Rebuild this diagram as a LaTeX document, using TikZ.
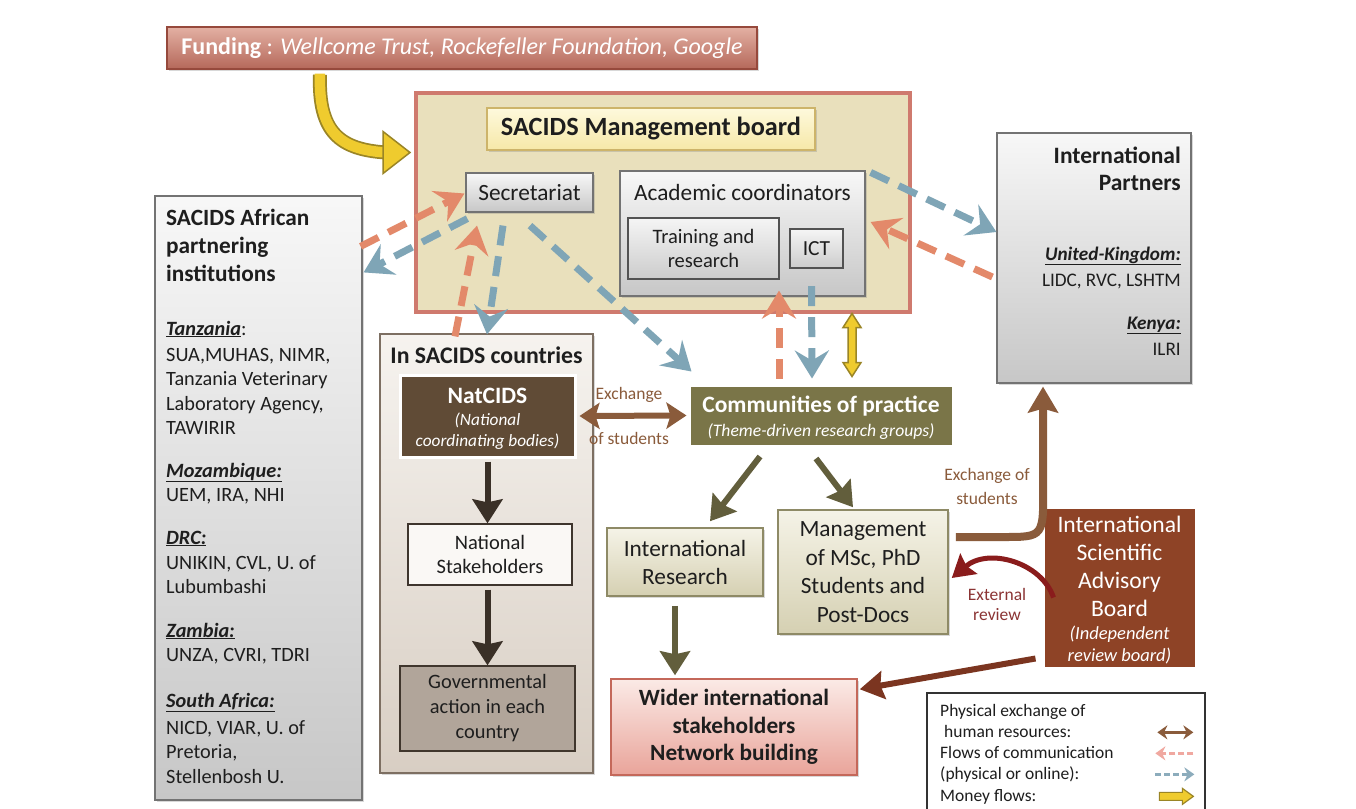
\documentclass[tikz,border=0pt]{standalone}
\usepackage{fontspec}
\setmainfont{Carlito}
\usetikzlibrary{arrows.meta,shadows,calc}
\definecolor{salm}{HTML}{E3896A}
\definecolor{blueg}{HTML}{7FA5B6}
\definecolor{exbrown}{HTML}{8A5B3B}
\definecolor{olivearr}{HTML}{625E3C}
\definecolor{darkarr}{HTML}{3A3027}
\definecolor{yfill}{HTML}{EFCB2E}
\definecolor{yline}{HTML}{9A8526}
\definecolor{txt}{HTML}{1E1E1E}
\definecolor{revred}{HTML}{8A1C1C}
\definecolor{revtxt}{HTML}{8B3434}
\definecolor{isabarr}{HTML}{7B3520}
\newcommand{\fsz}[2]{\fontsize{#1}{#2}\selectfont}
\newcommand{\cty}[1]{\underline{\textbf{\textit{#1}}}}
\tikzset{
  every node/.style={inner sep=0pt, text=txt},
  bx/.style 2 args={minimum width=#1pt, minimum height=#2pt},
  shad/.style={drop shadow={opacity=0.3, shadow xshift=2pt, shadow yshift=-2pt}},
  graybox/.style={draw=black!55, line width=1.2, top color=black!3, bottom color=black!22, shad},
  innerbox/.style={draw=black!68, line width=2.2, top color=black!4, bottom color=black!20},
  mbbox/.style={fill={rgb,255:red,233;green,224;blue,188}, draw={rgb,255:red,207;green,122;blue,110}, line width=4, shad},
  mbtitle/.style={draw={rgb,255:red,205;green,180;blue,106}, line width=1.2, top color={rgb,255:red,254;green,249;blue,220}, bottom color={rgb,255:red,246;green,232;blue,168}, shad},
  countrybox/.style={draw={rgb,255:red,125;green,111;blue,98}, line width=1.3, top color={rgb,255:red,246;green,243;blue,239}, bottom color={rgb,255:red,216;green,206;blue,195}, shad},
  natbox/.style={fill={rgb,255:red,96;green,75;blue,54}, draw=white, line width=3, shad},
  whitebox/.style={fill={rgb,255:red,250;green,248;blue,245}, draw={rgb,255:red,62;green,53;blue,45}, line width=1.3},
  govbox/.style={fill={rgb,255:red,177;green,165;blue,154}, draw={rgb,255:red,64;green,54;blue,45}, line width=1.3},
  combox/.style={fill={rgb,255:red,122;green,117;blue,72}, draw=white, line width=3, shad},
  olbox/.style={top color={rgb,255:red,245;green,243;blue,231}, bottom color={rgb,255:red,213;green,208;blue,178}, draw={rgb,255:red,142;green,138;blue,102}, line width=1.5, shad},
  widerbox/.style={top color={rgb,255:red,251;green,234;blue,230}, bottom color={rgb,255:red,233;green,164;blue,154}, draw={rgb,255:red,196;green,104;blue,90}, line width=1.5, shad},
  isabbox/.style={fill={rgb,255:red,142;green,67;blue,38}, draw=white, line width=3, shad},
  fundbox/.style={top color={rgb,255:red,227;green,176;blue,163}, bottom color={rgb,255:red,181;green,104;blue,90}, draw={rgb,255:red,150;green,73;blue,60}, line width=1.3, shad},
  legbox/.style={fill=white, draw=black!80, line width=1.3},
  commarrow/.style={line width=7, dash pattern=on 20pt off 11pt, -{Stealth[length=28pt,width=34pt,inset=10pt]}},
  salmarrow/.style={commarrow, draw=salm},
  bluearrow/.style={commarrow, draw=blueg},
  darkarrow/.style={line width=6, draw=darkarr, -{Stealth[length=24pt,width=30pt,inset=3pt]}},
  olivearrow/.style={line width=6, draw=olivearr, -{Stealth[length=24pt,width=30pt,inset=3pt]}},
  exarrow/.style={line width=6, draw=exbrown, {Stealth[length=20pt,width=26pt,inset=4pt]}-{Stealth[length=20pt,width=26pt,inset=4pt]}},
  lbl/.style={text=exbrown, font=\fsz{17.5}{21}},
}
\begin{document}
\begin{tikzpicture}[x=1pt,y=-1pt]
\clip (0,0) rectangle (1356,808);
\fill[white] (0,0) rectangle (1356,808);

% ---------- boxes ----------
\node[fundbox, bx={590}{42}, text=white, font=\fsz{24}{28}] (fund) at (462,48) {\textbf{Funding} : \textit{Wellcome Trust, Rockefeller Foundation, Google}};

\node[mbbox, bx={494}{219}] (mb) at (663,202.5) {};
\node[mbtitle, bx={328}{42}, font=\fsz{26.3}{30}\bfseries] (mbt) at (651,129) {SACIDS Management board};
\node[graybox, bx={127}{39}, font=\fsz{23.3}{26}] (sec) at (529.5,192.5) {Secretariat};
\node[graybox, bx={245}{125}] (acad) at (742.5,233.5) {};
\node[anchor=base, font=\fsz{23.3}{26}] (acadt) at (742.5,200) {Academic coordinators};
\node[innerbox, bx={151}{61}, align=center, font=\fsz{20.5}{24}] (tr) at (703.5,248.5) {Training and\\research};
\node[innerbox, bx={53}{39}, font=\fsz{21.5}{24}] (ict) at (816.5,248.5) {ICT};

\node[graybox, bx={194}{250}] (ip) at (1094,258) {};
\foreach \y/\t [count=\i] in {163/{\fsz{23.5}{26}\bfseries International}, 190/{\fsz{23.5}{26}\bfseries Partners}, 260/{\fsz{19.2}{24}\cty{United-Kingdom:}}, 286/{\fsz{19.2}{24}LIDC, RVC, LSHTM}, 329/{\fsz{19.2}{24}\cty{Kenya:}}, 355/{\fsz{19.2}{24}ILRI}}
  \node[anchor=base east] (ipt\i) at (1181,\y) {\t};

\node[graybox, bx={207}{604}] (af) at (258.5,498) {};
\foreach \y/\t [count=\i] in {225/{\fsz{23.3}{26}\bfseries SACIDS African}, 253/{\fsz{23.3}{26}\bfseries partnering}, 281/{\fsz{23.3}{26}\bfseries institutions},
  335/{\cty{Tanzania}:}, 361/{SUA,MUHAS, NIMR,}, 385/{Tanzania Veterinary}, 410/{Laboratory Agency,}, 434/{TAWIRIR},
  477/{\cty{Mozambique:}}, 501/{UEM, IRA, NHI},
  544/{\cty{DRC:}}, 569/{UNIKIN, CVL, U. of}, 593/{Lubumbashi},
  637/{\cty{Zambia:}}, 661/{UNZA, CVRI, TDRI},
  707/{\cty{South Africa:}}, 734/{NICD, VIAR, U. of}, 758/{Pretoria,}, 783/{Stellenbosh U.}}
  \node[anchor=base west, font=\fsz{20.3}{24}] (aft\i) at (166,\y) {\t};

\node[countrybox, bx={213}{439}] (ctry) at (486.5,553.5) {};
\node[anchor=base, font=\fsz{23.8}{26}\bfseries] (ctryt) at (486.5,363) {In SACIDS countries};
\node[natbox, bx={175}{82}] (nat) at (487.5,416) {};
\node[align=center, text=white, font=\fsz{17.3}{21}] (natt) at (487.5,419) {\fsz{23.5}{26}\bfseries NatCIDS\\[1pt]\itshape (National\\\itshape coordinating bodies)};
\node[whitebox, bx={164}{61}, align=center, font=\fsz{20.5}{24}] (ns) at (490,554.5) {National\\Stakeholders};
\node[govbox, bx={175}{85}, align=center, font=\fsz{20.4}{25}] (gov) at (487.5,708.5) {Governmental\\action in each\\country};

\node[combox, bx={264}{61}] (cop) at (821,415.5) {};
\node[align=center, text=white, font=\fsz{17.6}{24.5}] (copt) at (821,417.5) {\fsz{23.5}{26}\bfseries Communities of practice\\\itshape (Theme-driven research groups)};
\node[olbox, bx={156}{68}, align=center, font=\fsz{23.3}{28}] (ir) at (685,562) {International\\Research};
\node[olbox, bx={170}{124}, align=center, font=\fsz{23.3}{28.5}] (mg) at (863,572) {Management\\of MSc, PhD\\Students and\\Post-Docs};
\node[widerbox, bx={246}{96}, align=center, font=\fsz{23.3}{27.5}\bfseries] (wid) at (734,727) {Wider international\\stakeholders\\Network building};
\node[isabbox, bx={153}{161}] (isab) at (1119.5,587.5) {};
\node[align=center, text=white, font=\fsz{23.6}{28}] (isabt) at (1119.5,590.5) {International\\Scientific\\Advisory\\Board\\[-5pt]\fsz{18.5}{22}\itshape (Independent\\[-6pt]\fsz{18.5}{22}\itshape review board)};

\node[legbox, bx={278}{137}] (leg) at (1066,761.5) {};
\foreach \y/\t [count=\i] in {716/{Physical exchange of}, 737/{\ human resources:}, 758/{Flows of communication}, 779/{(physical or online):}, 801/{Money flows:}}
  \node[anchor=base west, font=\fsz{17.5}{20}] (legt\i) at (940,\y) {\t};

% ---------- labels ----------
\node[lbl] (ex1) at (629,395) {Exchange};
\node[lbl] (ex2) at (629,438) {of students};
\node[lbl] (ex3) at (987,476) {Exchange of};
\node[lbl] (ex4) at (987,498) {students};
\node[lbl, text=revtxt] (rv1) at (997,594) {External};
\node[lbl, text=revtxt] (rv2) at (997,615) {review};

% ---------- solid arrows ----------
\draw[darkarrow] ([yshift=-3pt]nat.south) -- (nat.south |- ns.north);
\draw[darkarrow] ([yshift=-4pt]nat.south |- ns.south) -- (nat.south |- gov.north);
\draw[exarrow] ([xshift=3pt]nat.east) -- ([xshift=-1pt]cop.west);
\draw[olivearrow] ($(cop.south)+(-61,9)$) -- ($(ir.north)+(25,-6)$);
\draw[olivearrow] ($(cop.south)+(-5,11)$) -- ($(mg.north)+(-10,-2)$);
\draw[olivearrow] ($(ir.south)+(-10,9)$) -- ($(wid.north)+(-59,-3)$);
\draw[line width=6, draw=isabarr, -{Stealth[length=24pt,width=28pt,inset=3pt]}] ($(isab.south west)+(-6,-11)$) -- ($(wid.north east)+(2,11)$);
\draw[line width=5, draw=revred, -{Stealth[length=22pt,width=26pt,inset=3pt]}] ($(isab.west)+(12,10)$) .. controls ($(isab.west)+(0,-25)$) and ($(mg.east)+(40,-25)$) .. ($(mg.east)+(3,6)$);
\draw[line width=8, draw=exbrown, -{Stealth[length=26pt,width=30pt,inset=4pt]}] ($(mg.east)+(7,-35)$) -- ($(mg.east)+(55,-35)$) .. controls ($(mg.east)+(95,-35)$) .. ($(ip.south)+(-51,100)$) -- ($(ip.south)+(-51,3)$);

% ---------- money arrows ----------
\coordinate (ys) at ($(fund.south)+(-142,5)$);
\coordinate (ytip) at ($(mb.west)+(-4,-50)$);
\draw[line width=14, draw=yline] (ys) .. controls ($(ys)+(-2,58)$) and ($(ytip)+(-70,-3)$) .. ($(ytip)+(-24,0)$);
\draw[line width=10.5, draw=yfill] ([yshift=1pt]ys) .. controls ($(ys)+(-2,58)$) and ($(ytip)+(-70,-3)$) .. ($(ytip)+(-24,0)$);
\filldraw[fill=yfill, draw=yline, line width=1.5] (ytip) -- ++(-27,-21) -- ++(0,42) -- cycle;

\coordinate (yv) at ($(cop.north)+(31,-70)$);
\filldraw[fill=yfill, draw=yline, line width=1.5] (yv) -- ++(9,14) -- ++(-5,0) -- ++(0,35) -- ++(5,0) -- ++(-9,14) -- ++(-9,-14) -- ++(5,0) -- ++(0,-35) -- ++(-5,0) -- cycle;

% ---------- communication arrows ----------
\draw[salmarrow] ($(af.north east)+(-2,51)$) -- ($(sec.west)+(-1,1)$);
\draw[bluearrow] ($(sec.south west)+(2,6)$) -- ($(af.north east)+(1,77)$);
\draw[salmarrow] ($(ctry.north)+(-31.5,3)$) -- ($(sec.south)+(-52.5,13)$);
\draw[bluearrow] ($(sec.south)+(-26.5,13)$) -- ($(ctry.north)+(0.5,1)$);
\draw[bluearrow] ($(sec.south)+(0.5,13)$) -- ($(cop.north west)+(4,-12)$);
\draw[salmarrow] ($(cop.north)+(-42,-5)$) -- ($(acad.south)+(36.5,-6)$);
\draw[bluearrow] ($(ict.south)+(-5,17)$) -- ($(cop.north)+(-9,-5)$);
\draw[bluearrow] ($(acad.north east)+(5,2)$) -- ($(ip.west)+(0,-26)$);
\draw[salmarrow] ($(ip.west)+(-4,19)$) -- ($(acad.east)+(5,-11.5)$);

% ---------- legend arrows ----------
\coordinate (l1a) at ($(leg.north west)+(231,40)$);
\coordinate (l1b) at ($(leg.north west)+(267,40)$);
\draw[line width=3, draw=exbrown, {Stealth[length=10pt,width=14pt]}-{Stealth[length=10pt,width=14pt]}] (l1a) -- (l1b);
\coordinate (l2a) at ($(leg.north west)+(267,61)$);
\coordinate (l2b) at ($(leg.north west)+(229,61)$);
\draw[line width=3, draw={rgb,255:red,240;green,168;blue,160}, dash pattern=on 6pt off 3pt, -{Stealth[length=10pt,width=14pt]}] (l2a) -- (l2b);
\coordinate (l3a) at ($(leg.north west)+(229,82)$);
\coordinate (l3b) at ($(leg.north west)+(268,82)$);
\draw[line width=3, draw={rgb,255:red,140;green,172;blue,188}, dash pattern=on 6pt off 3pt, -{Stealth[length=10pt,width=14pt]}] (l3a) -- (l3b);
\coordinate (l4) at ($(leg.north west)+(233,104)$);
\filldraw[fill=yfill, draw=yline, line width=1.2] (l4) -- ++(0,-4) -- ++(23,0) -- ++(0,-4) -- ++(11,8) -- ++(-11,8) -- ++(0,-4) -- ++(-23,0) -- cycle;
\end{tikzpicture}
\end{document}
